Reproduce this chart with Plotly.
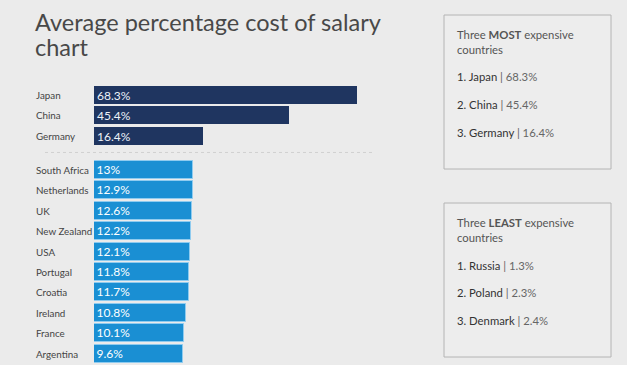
import plotly.graph_objects as go

top_countries = ["Japan", "China", "Germany"]
top_values = [68.3, 45.4, 16.4]
other_countries = ["South Africa", "Netherlands", "UK", "New Zealand", "USA",
                   "Portugal", "Croatia", "Ireland", "France", "Argentina"]
other_values = [13, 12.9, 12.6, 12.2, 12.1, 11.8, 11.7, 10.8, 10.1, 9.6]

title_lines = ["Average percentage cost of salary", "chart"]

most_title = "Three <b>MOST</b> expensive<br>countries"
most_list = ["Japan", "China", "Germany"]
most_vals = [68.3, 45.4, 16.4]
least_title = "Three <b>LEAST</b> expensive<br>countries"
least_list = ["Russia", "Poland", "Denmark"]
least_vals = [1.3, 2.3, 2.4]

W, H = 627, 365
BG = "#ebebeb"
FONT = "Lato"
DARK = "#1f3560"
LIGHT = "#1a8fd3"
BASE = -20.4          # visual offset of the original (bars start left of zero)
GAP = 1.66            # gap between the two groups, in slot units

L, R, T, B = 94, 380, 80, 365
PW, PH = R - L, B - T


def px_x(px):
    return (px - L) / PW


def px_y(py):
    return 1 - (py - T) / PH


top_y = list(range(len(top_countries)))
other_y = [len(top_countries) - 1 + GAP + i for i in range(len(other_countries))]


def bar_trace(ys, vals, color, line, tcolor):
    # bars run from BASE up to the value (plotly bar length = value - base)
    return go.Bar(
        y=ys, x=[v - BASE for v in vals], base=BASE, orientation="h", width=0.88,
        marker=dict(color=color, line=line),
        text=[f"{v:g}%" for v in vals], textposition="inside",
        insidetextanchor="start", textfont=dict(color=tcolor, size=12, family=FONT),
        hoverinfo="skip")


fig = go.Figure()
fig.add_trace(bar_trace(top_y, top_values, DARK, dict(width=0), "#eef2f8"))
fig.add_trace(bar_trace(other_y, other_values, LIGHT, dict(width=1, color="#8fcbef"), "#ffffff"))

annotations = []
for name, yy in zip(top_countries + other_countries, top_y + other_y):
    annotations.append(dict(x=px_x(34), xref="paper", y=yy, yref="y",
                            text=name, showarrow=False, xanchor="left",
                            font=dict(size=9.8, color="#444444", family=FONT)))

# title (two lines, tighter spacing like the original)
for i, line in enumerate(title_lines):
    annotations.append(dict(x=px_x(33), xref="paper", y=px_y(22 + 25 * i), yref="paper",
                            text=line, showarrow=False, xanchor="left", yanchor="middle",
                            align="left",
                            font=dict(size=23.5, color="#484848", family=FONT)))

shapes = []
# group separator dotted line
sep_y = top_y[-1] + GAP / 2 - 0.02
shapes.append(dict(type="line", xref="paper", yref="y",
                   x0=px_x(45), x1=px_x(372), y0=sep_y, y1=sep_y,
                   line=dict(color="#d0d0d0", width=1, dash="dot")))


def add_box(y_top, title, names, vals):
    shapes.append(dict(type="rect", xref="paper", yref="paper",
                       x0=px_x(444), x1=px_x(611), y0=px_y(y_top + 154), y1=px_y(y_top),
                       line=dict(color="#b4b4b4", width=1), fillcolor="#ededed"))
    annotations.append(dict(x=px_x(455), xref="paper", y=px_y(y_top + 11), yref="paper",
                            text=title, showarrow=False, xanchor="left", yanchor="top",
                            align="left",
                            font=dict(size=11.3, color="#555555", family=FONT)))
    for i, (n, v) in enumerate(zip(names, vals)):
        annotations.append(dict(x=px_x(455), xref="paper",
                                y=px_y(y_top + 62 + 27.5 * i), yref="paper",
                                text=f"<span style='color:#333'>{i+1}. {n}</span> | {v}%",
                                showarrow=False, xanchor="left", yanchor="middle",
                                font=dict(size=11.3, color="#666666", family=FONT)))


add_box(15, most_title, most_list, most_vals)
add_box(203, least_title, least_list, least_vals)

px_per_unit = 2.96
x_max = BASE + PW / px_per_unit
slot = 20.44
y_lo = (T - 95) / slot
y_hi = (B - 95) / slot

fig.update_layout(
    width=W, height=H, paper_bgcolor=BG, plot_bgcolor=BG,
    margin=dict(l=L, r=W - R, t=T, b=H - B),
    showlegend=False, bargap=0,
    xaxis=dict(range=[BASE, x_max], visible=False, fixedrange=True),
    yaxis=dict(range=[y_hi, y_lo], visible=False, fixedrange=True),
    annotations=annotations, shapes=shapes,
    uniformtext=dict(minsize=11, mode="show"),
)

fig.write_html("out.html", config={"displayModeBar": False},
               post_script="document.body.style.margin='0';document.body.style.overflow='hidden';")
